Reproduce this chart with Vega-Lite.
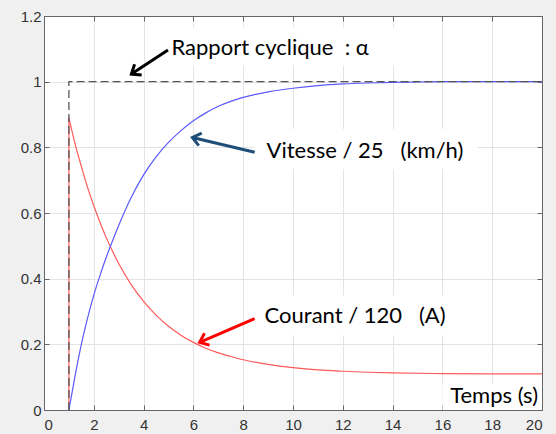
{
  "$schema": "https://vega.github.io/schema/vega-lite/v6.json",
  "width": 498,
  "height": 394,
  "autosize": {"type": "none"},
  "padding": {"left": 44, "top": 16, "right": 14, "bottom": 24},
  "background": "#f0f0f0",
  "config": {
    "view": {"fill": "white", "stroke": "#666666", "strokeWidth": 1},
    "axis": {"labelFont": "Liberation Sans", "labelFontSize": 15, "labelColor": "#333333", "tickColor": "#666666", "domainColor": "#666666", "gridColor": "#e4e4e4", "title": null}
  },
  "datasets": {
    "speed": [
      {"t": 1, "v": 0}, {"t": 1.25, "v": 0.105}, {"t": 1.5, "v": 0.2}, {"t": 1.75, "v": 0.28},
      {"t": 2, "v": 0.35}, {"t": 2.25, "v": 0.41}, {"t": 2.5, "v": 0.465}, {"t": 2.75, "v": 0.515},
      {"t": 3, "v": 0.562}, {"t": 3.5, "v": 0.647}, {"t": 4, "v": 0.716}, {"t": 4.5, "v": 0.771},
      {"t": 5, "v": 0.815}, {"t": 5.5, "v": 0.851}, {"t": 6, "v": 0.881}, {"t": 6.5, "v": 0.905},
      {"t": 7, "v": 0.925}, {"t": 7.5, "v": 0.94}, {"t": 8, "v": 0.952}, {"t": 9, "v": 0.969},
      {"t": 10, "v": 0.98}, {"t": 11, "v": 0.988}, {"t": 12, "v": 0.993}, {"t": 13, "v": 0.996},
      {"t": 14, "v": 0.998}, {"t": 15, "v": 0.999}, {"t": 16, "v": 1.0}, {"t": 18, "v": 1.0}, {"t": 20, "v": 1.0}
    ],
    "current": [
      {"i": 0, "t": 1, "v": 0}, {"i": 1, "t": 1, "v": 0.89}, {"i": 2, "t": 1.25, "v": 0.81},
      {"i": 3, "t": 1.5, "v": 0.742}, {"i": 4, "t": 1.75, "v": 0.678}, {"i": 5, "t": 2, "v": 0.622},
      {"i": 6, "t": 2.25, "v": 0.571}, {"i": 7, "t": 2.5, "v": 0.525}, {"i": 8, "t": 2.75, "v": 0.484},
      {"i": 9, "t": 3, "v": 0.446}, {"i": 10, "t": 3.5, "v": 0.382}, {"i": 11, "t": 4, "v": 0.331},
      {"i": 12, "t": 4.5, "v": 0.289}, {"i": 13, "t": 5, "v": 0.255}, {"i": 14, "t": 5.5, "v": 0.228},
      {"i": 15, "t": 6, "v": 0.206}, {"i": 16, "t": 6.5, "v": 0.188}, {"i": 17, "t": 7, "v": 0.174},
      {"i": 18, "t": 7.5, "v": 0.163}, {"i": 19, "t": 8, "v": 0.153}, {"i": 20, "t": 9, "v": 0.139},
      {"i": 21, "t": 10, "v": 0.129}, {"i": 22, "t": 11, "v": 0.122}, {"i": 23, "t": 12, "v": 0.118},
      {"i": 24, "t": 13, "v": 0.115}, {"i": 25, "t": 14, "v": 0.113}, {"i": 26, "t": 16, "v": 0.111},
      {"i": 27, "t": 18, "v": 0.11}, {"i": 28, "t": 20, "v": 0.11}
    ],
    "duty": [
      {"i": 0, "t": 1, "v": 0}, {"i": 1, "t": 1, "v": 1}, {"i": 2, "t": 20, "v": 1}
    ],
    "boxes": [
      {"x": 4.9, "x2": 14.5, "y": 1.049, "y2": 1.165},
      {"x": 8.46, "x2": 17.4, "y": 0.734, "y2": 0.856},
      {"x": 8.46, "x2": 16.36, "y": 0.227, "y2": 0.3485},
      {"x": 16.0, "x2": 20, "y": 0.0, "y2": 0.081}
    ],
    "notes": [
      {"label": "Rapport cyclique\u00a0\u00a0: α", "x": 5.12, "y": 1.103},
      {"label": "Vitesse / 25\u00a0\u00a0\u00a0(km/h)", "x": 8.94, "y": 0.79},
      {"label": "Courant / 120\u00a0\u00a0\u00a0(A)", "x": 8.86, "y": 0.2855}
    ],
    "rapport": [{"x": 4.98, "y": 1.0965, "end": "tail"}, {"x": 3.51, "y": 1.023, "end": "head"}],
    "vitesse": [{"x": 8.46, "y": 0.785, "end": "tail"}, {"x": 5.96, "y": 0.83, "end": "head"}],
    "courant": [{"x": 8.46, "y": 0.278, "end": "tail"}, {"x": 6.25, "y": 0.206, "end": "head"}]
  },
  "layer": [
    {
      "data": {"name": "boxes"},
      "mark": {"type": "rect", "fill": "white", "stroke": null},
      "encoding": {
        "x": {"field": "x", "type": "quantitative", "scale": {"domain": [0, 20], "nice": false, "zero": false}, "axis": null},
        "x2": {"field": "x2"},
        "y": {"field": "y", "type": "quantitative", "scale": {"domain": [0, 1.2], "nice": false}, "axis": null},
        "y2": {"field": "y2"}
      }
    },
    {
      "data": {"name": "current"},
      "transform": [{"filter": "datum.i <= 1"}],
      "mark": {"type": "line", "color": "#ff5a5a", "strokeWidth": 1.2},
      "encoding": {
        "x": {"field": "t", "type": "quantitative", "axis": {"orient": "bottom", "values": [0, 2, 4, 6, 8, 10, 12, 14, 16, 18, 20], "grid": true, "tickSize": -5, "labelPadding": 12, "format": "~g"}},
        "y": {"field": "v", "type": "quantitative", "axis": {"orient": "left", "values": [0, 0.2, 0.4, 0.6, 0.8, 1, 1.2], "grid": true, "tickSize": -5, "labelPadding": 8, "format": "~g"}},
        "order": {"field": "i", "type": "quantitative"}
      }
    },
    {
      "data": {"name": "current"},
      "transform": [{"filter": "datum.i >= 1"}],
      "mark": {"type": "line", "color": "#ff5a5a", "strokeWidth": 1.2, "interpolate": "monotone"},
      "encoding": {
        "x": {"field": "t", "type": "quantitative", "axis": null},
        "y": {"field": "v", "type": "quantitative", "axis": null}
      }
    },
    {
      "data": {"name": "speed"},
      "mark": {"type": "line", "color": "#5a5aff", "strokeWidth": 1.2, "interpolate": "monotone"},
      "encoding": {
        "x": {"field": "t", "type": "quantitative", "axis": null},
        "y": {"field": "v", "type": "quantitative", "axis": null}
      }
    },
    {
      "data": {"name": "duty"},
      "mark": {"type": "line", "color": "#555555", "strokeWidth": 1.3, "strokeDash": [8, 4]},
      "encoding": {
        "x": {"field": "t", "type": "quantitative", "axis": {"orient": "top", "values": [0, 2, 4, 6, 8, 10, 12, 14, 16, 18, 20], "grid": false, "labels": false, "tickSize": -5}},
        "y": {"field": "v", "type": "quantitative", "axis": {"orient": "right", "values": [0, 0.2, 0.4, 0.6, 0.8, 1, 1.2], "grid": false, "labels": false, "tickSize": -5}},
        "order": {"field": "i", "type": "quantitative"}
      }
    },
    {
      "data": {"name": "rapport"},
      "layer": [
        {"mark": {"type": "line", "color": "black", "strokeWidth": 3}, "encoding": {"x": {"field": "x", "type": "quantitative", "axis": null}, "y": {"field": "y", "type": "quantitative", "axis": null}}},
        {"transform": [{"filter": "datum.end === 'head'"}], "mark": {"type": "point", "shape": "M-1,-0.8L0,0L-1,0.8", "filled": false, "stroke": "black", "strokeWidth": 3, "size": 260, "angle": 146.7, "opacity": 1}, "encoding": {"x": {"field": "x", "type": "quantitative", "axis": null}, "y": {"field": "y", "type": "quantitative", "axis": null}}}
      ]
    },
    {
      "data": {"name": "vitesse"},
      "layer": [
        {"mark": {"type": "line", "color": "#1f4e79", "strokeWidth": 3}, "encoding": {"x": {"field": "x", "type": "quantitative", "axis": null}, "y": {"field": "y", "type": "quantitative", "axis": null}}},
        {"transform": [{"filter": "datum.end === 'head'"}], "mark": {"type": "point", "shape": "M-1,-0.8L0,0L-1,0.8", "filled": false, "stroke": "#1f4e79", "strokeWidth": 3, "size": 260, "angle": 193.5, "opacity": 1}, "encoding": {"x": {"field": "x", "type": "quantitative", "axis": null}, "y": {"field": "y", "type": "quantitative", "axis": null}}}
      ]
    },
    {
      "data": {"name": "courant"},
      "layer": [
        {"mark": {"type": "line", "color": "#ff0000", "strokeWidth": 3}, "encoding": {"x": {"field": "x", "type": "quantitative", "axis": null}, "y": {"field": "y", "type": "quantitative", "axis": null}}},
        {"transform": [{"filter": "datum.end === 'head'"}], "mark": {"type": "point", "shape": "M-1,-0.8L0,0L-1,0.8", "filled": false, "stroke": "#ff0000", "strokeWidth": 3, "size": 260, "angle": 157, "opacity": 1}, "encoding": {"x": {"field": "x", "type": "quantitative", "axis": null}, "y": {"field": "y", "type": "quantitative", "axis": null}}}
      ]
    },
    {
      "data": {"name": "notes"},
      "mark": {"type": "text", "font": "Lato", "fontSize": 22, "color": "black", "align": "left", "baseline": "middle"},
      "encoding": {
        "x": {"field": "x", "type": "quantitative", "axis": null},
        "y": {"field": "y", "type": "quantitative", "axis": null},
        "text": {"field": "label"}
      }
    },
    {
      "data": {"values": [{"label": "Temps (s)", "x": 19.84, "y": 0.044}]},
      "mark": {"type": "text", "font": "Lato", "fontSize": 22, "color": "black", "align": "right", "baseline": "middle"},
      "encoding": {
        "x": {"field": "x", "type": "quantitative", "axis": null},
        "y": {"field": "y", "type": "quantitative", "axis": null},
        "text": {"field": "label"}
      }
    }
  ],
  "resolve": {"axis": {"x": "independent", "y": "independent"}}
}
